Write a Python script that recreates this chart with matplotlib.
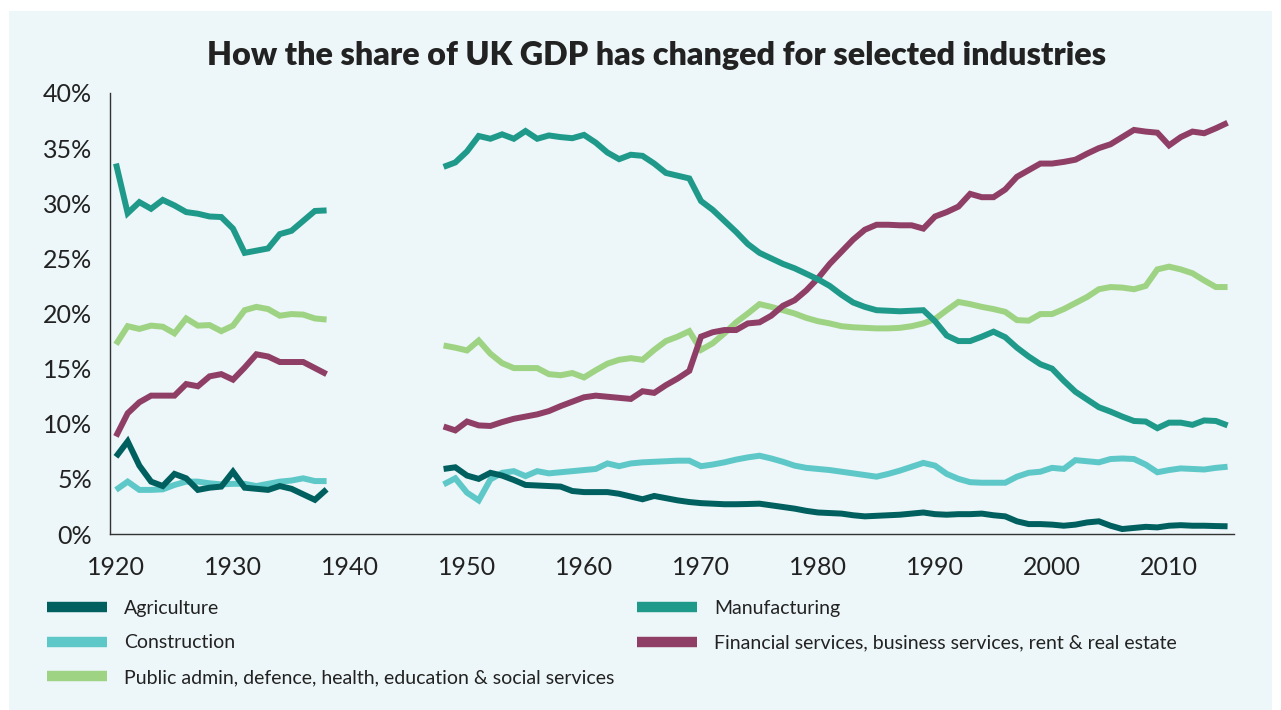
import numpy as np
import matplotlib.pyplot as plt
from matplotlib.lines import Line2D
from matplotlib.patches import Rectangle

# years (no data 1939-1947)
years_pre = np.arange(1920, 1939)
years_post = np.arange(1948, 2016)

# share of UK GDP, %
agriculture_pre = [7.0, 8.4, 6.2, 4.75, 4.35, 5.45, 5.05, 4.0, 4.2, 4.3,
                   5.65, 4.2, 4.1, 4.0, 4.35, 4.1, 3.6, 3.1, 4.05]
agriculture_post = [5.9, 6.05, 5.3, 5.0, 5.55, 5.3, 4.9, 4.45, 4.4, 4.35,
                    4.3, 3.9, 3.8, 3.8, 3.8, 3.65, 3.4, 3.15, 3.45, 3.25,
                    3.05, 2.9, 2.8, 2.75, 2.7, 2.7, 2.72, 2.75, 2.6, 2.45,
                    2.3, 2.1, 1.95, 1.9, 1.85, 1.7, 1.6, 1.65, 1.7, 1.75,
                    1.85, 1.95, 1.8, 1.75, 1.8, 1.8, 1.85, 1.7, 1.6, 1.15,
                    0.9, 0.9, 0.85, 0.75, 0.85, 1.05, 1.15, 0.75, 0.45, 0.55,
                    0.65, 0.6, 0.75, 0.8, 0.75, 0.75, 0.72, 0.7]

construction_pre = [4.0, 4.75, 4.0, 4.0, 4.05, 4.45, 4.75, 4.75, 4.6, 4.5,
                    4.55, 4.55, 4.35, 4.55, 4.75, 4.85, 5.05, 4.8, 4.8]
construction_post = [4.5, 5.05, 3.75, 3.05, 4.95, 5.55, 5.7, 5.25, 5.7, 5.5,
                     5.6, 5.7, 5.8, 5.9, 6.4, 6.15, 6.4, 6.5, 6.55, 6.6,
                     6.65, 6.65, 6.15, 6.3, 6.5, 6.75, 6.95, 7.1, 6.85, 6.55,
                     6.2, 6.0, 5.9, 5.8, 5.65, 5.5, 5.35, 5.2, 5.45, 5.75,
                     6.1, 6.45, 6.2, 5.45, 5.0, 4.7, 4.65, 4.65, 4.65, 5.2,
                     5.55, 5.65, 6.0, 5.9, 6.7, 6.6, 6.5, 6.8, 6.85, 6.8,
                     6.3, 5.6, 5.8, 5.95, 5.9, 5.85, 6.0, 6.1]

public_pre = [17.2, 18.85, 18.6, 18.9, 18.8, 18.2, 19.55, 18.9, 18.95, 18.4,
              18.9, 20.3, 20.6, 20.4, 19.8, 19.95, 19.9, 19.55, 19.45]
public_post = [17.1, 16.9, 16.65, 17.55, 16.35, 15.5, 15.05, 15.05, 15.05, 14.5,
               14.4, 14.6, 14.2, 14.85, 15.45, 15.8, 15.95, 15.8, 16.7, 17.5,
               17.9, 18.4, 16.7, 17.3, 18.2, 19.2, 20.0, 20.85, 20.6, 20.3,
               20.0, 19.6, 19.3, 19.1, 18.85, 18.75, 18.7, 18.65, 18.65, 18.7,
               18.85, 19.1, 19.5, 20.3, 21.05, 20.85, 20.6, 20.4, 20.15, 19.4,
               19.35, 19.95, 19.95, 20.4, 20.95, 21.5, 22.2, 22.4, 22.35, 22.2,
               22.5, 24.0, 24.25, 24.0, 23.65, 23.0, 22.4, 22.4]

manufacturing_pre = [33.6, 29.1, 30.1, 29.5, 30.3, 29.8, 29.2, 29.05, 28.8, 28.75,
                     27.7, 25.5, 25.7, 25.9, 27.2, 27.5, 28.4, 29.3, 29.35]
manufacturing_post = [33.3, 33.7, 34.7, 36.1, 35.85, 36.25, 35.85, 36.55, 35.85, 36.15,
                      36.0, 35.9, 36.2, 35.5, 34.6, 34.0, 34.4, 34.3, 33.6, 32.75,
                      32.5, 32.25, 30.2, 29.4, 28.4, 27.4, 26.3, 25.5, 25.0, 24.5,
                      24.1, 23.6, 23.1, 22.5, 21.7, 21.0, 20.6, 20.3, 20.25, 20.2,
                      20.25, 20.3, 19.3, 18.0, 17.5, 17.5, 17.9, 18.35, 17.85, 16.9,
                      16.1, 15.4, 15.0, 13.9, 12.9, 12.2, 11.5, 11.1, 10.65, 10.25,
                      10.2, 9.6, 10.1, 10.1, 9.9, 10.3, 10.25, 9.85]

financial_pre = [8.85, 10.95, 11.95, 12.55, 12.55, 12.55, 13.6, 13.4, 14.3, 14.5,
                 14.0, 15.1, 16.3, 16.1, 15.6, 15.6, 15.6, 15.05, 14.5]
financial_post = [9.75, 9.4, 10.2, 9.85, 9.8, 10.15, 10.45, 10.65, 10.85, 11.15,
                  11.6, 12.0, 12.4, 12.55, 12.45, 12.35, 12.25, 12.95, 12.8, 13.5,
                  14.1, 14.8, 17.9, 18.3, 18.5, 18.5, 19.1, 19.2, 19.8, 20.7,
                  21.2, 22.1, 23.2, 24.5, 25.6, 26.7, 27.6, 28.05, 28.05, 28.0,
                  28.0, 27.7, 28.8, 29.2, 29.7, 30.85, 30.55, 30.55, 31.25, 32.4,
                  33.0, 33.6, 33.6, 33.75, 33.95, 34.5, 35.0, 35.35, 36.0, 36.65,
                  36.5, 36.4, 35.25, 36.0, 36.5, 36.35, 36.8, 37.3]

labels = ["Agriculture", "Construction",
          "Public admin, defence, health, education & social services",
          "Manufacturing",
          "Financial services, business services, rent & real estate"]
colors = ["#00605f", "#5ec8c8", "#9ed384", "#1f9a8a", "#8f3f66"]

series = [(agriculture_pre, agriculture_post),
          (construction_pre, construction_post),
          (public_pre, public_post),
          (manufacturing_pre, manufacturing_post),
          (financial_pre, financial_post)]

plt.rcParams['font.family'] = ['Lato', 'DejaVu Sans']
bg = "#edf6f8"
txt = "#222222"

fig = plt.figure(figsize=(12.81, 7.10), dpi=100, facecolor="white")
fig.patches.append(Rectangle((9 / 1281, 0), 1263 / 1281, 699 / 710,
                             transform=fig.transFigure, facecolor=bg,
                             edgecolor="none", zorder=-10))
ax = fig.add_axes([110 / 1281, 1 - 534 / 710, 1124 / 1281, 441 / 710])
ax.set_facecolor("none")

# draw in order so that the later series sit on top
order = [1, 0, 2, 4, 3]
for i in order:
    pre, post = series[i]
    for yrs, vals in ((years_pre, pre), (years_post, post)):
        ax.plot(yrs, vals, color=colors[i], lw=4.3,
                solid_joinstyle="miter", solid_capstyle="butt")

ax.set_xlim(1919.49, 2015.55)
ax.set_ylim(0, 40)
ax.set_xticks(np.arange(1920, 2011, 10))
ax.set_yticks(np.arange(0, 41, 5))
ax.set_yticklabels([f"{v}%" for v in range(0, 41, 5)])
ax.tick_params(length=0, labelsize=18, colors=txt)
ax.tick_params(axis="x", pad=16)
ax.tick_params(axis="y", pad=13)
for s in ["top", "right"]:
    ax.spines[s].set_visible(False)
for s in ["left", "bottom"]:
    ax.spines[s].set_color("#333333")
    ax.spines[s].set_linewidth(1.0)

fig.text(657 / 1281, 1 - 56 / 710,
         "How the share of UK GDP has changed for selected industries",
         ha="center", va="center", fontsize=23.2, fontweight="heavy", color=txt)

handles = [Line2D([], [], color=c, lw=7.5, solid_capstyle="butt") for c in colors]
leg_kw = dict(frameon=False, fontsize=14, handlelength=3.1, handletextpad=0.85,
              labelspacing=0.9, borderpad=0, borderaxespad=0, labelcolor=txt)
leg1 = fig.legend(handles[:3], labels[:3], loc="upper left",
                  bbox_to_anchor=(47 / 1281, 1 - 600 / 710), **leg_kw)
leg2 = fig.legend(handles[3:], labels[3:], loc="upper left",
                  bbox_to_anchor=(637 / 1281, 1 - 600 / 710), **leg_kw)

fig.savefig("out.png", dpi=100, facecolor="white")
